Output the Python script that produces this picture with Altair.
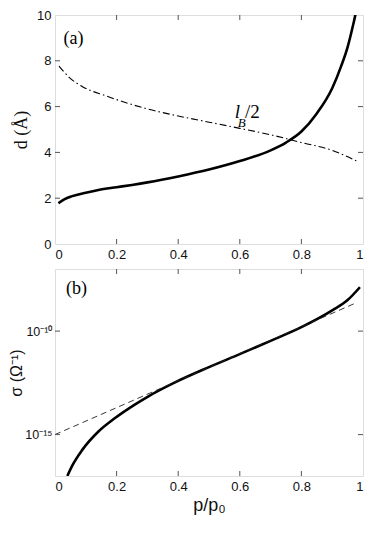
import altair as alt
import pandas as pd

# ---- panel (a) data ----
a_x = [0.011, 0.03, 0.056, 0.1, 0.141, 0.2, 0.25, 0.3, 0.4, 0.5, 0.6, 0.7, 0.75, 0.8, 0.85, 0.9, 0.93, 0.95, 0.965, 0.975, 0.98]
a_d = [1.78, 1.95, 2.09, 2.24, 2.36, 2.48, 2.58, 2.69, 2.95, 3.25, 3.62, 4.09, 4.43, 4.91, 5.7, 6.8, 7.8, 8.6, 9.4, 10.0, 10.4]

lb_x = [0.013, 0.045, 0.088, 0.163, 0.3, 0.4, 0.5, 0.6, 0.7, 0.8, 0.9, 0.98]
lb_y = [7.77, 7.29, 6.88, 6.48, 5.9, 5.59, 5.32, 5.05, 4.77, 4.43, 4.09, 3.62]

# ---- panel (b) data (log10 of sigma) ----
b_x = [0.04, 0.056, 0.088, 0.141, 0.195, 0.259, 0.302, 0.388, 0.5, 0.6, 0.7, 0.8, 0.9, 0.95, 0.99]
b_log = [-17.0, -16.5, -15.75, -14.85, -14.2, -13.55, -13.16, -12.49, -11.74, -11.11, -10.47, -9.81, -9.0, -8.5, -7.88]

fit_x = [0.0, 0.98]
fit_log = [-15.0, -8.62]

a_xticks = [0.2, 0.4, 0.6, 0.8]
a_yticks = [2, 4, 6, 8]
b_yticks_log = [-15, -10]

W = 308
HA = 229
HB = 207
TL = 5
AXC = "#555555"
SANS = "Liberation Sans"
SERIF = "Liberation Serif"

xs = alt.Scale(domain=[0, 1], nice=False)
ya = alt.Scale(domain=[0, 10], nice=False)
yb = alt.Scale(type="log", domain=[1e-17, 1e-7], nice=False)

x_axis_common = dict(values=[0, 0.2, 0.4, 0.6, 0.8, 1], format="~g", grid=False, domain=False,
                     ticks=False, labelPadding=4, labelFont=SANS, labelFontSize=13,
                     labelColor="#111", titleFont=SANS, titleFontSize=18, titleColor="#111",
                     titleFontWeight="normal")

# ---------- panel (a) ----------
df_a = pd.DataFrame({"x": a_x, "y": a_d})
df_lb = pd.DataFrame({"x": lb_x, "y": lb_y})

solid_a = alt.Chart(df_a).mark_line(color="black", strokeWidth=2.6, interpolate="monotone", clip=True).encode(
    x=alt.X("x:Q", scale=xs, axis=alt.Axis(title=None, **x_axis_common)),
    y=alt.Y("y:Q", scale=ya, axis=alt.Axis(values=[0, 2, 4, 6, 8, 10], grid=False, domain=False, ticks=False,
                                           labelPadding=4, labelFont=SANS, labelFontSize=13, labelColor="#111",
                                           title="d (Å)", titleFont=SERIF, titleFontSize=18,
                                           titleFontWeight="normal", titleColor="#111", titlePadding=6)),
)
dash_a = alt.Chart(df_lb).mark_line(color="black", strokeWidth=1.1, strokeDash=[7, 3, 1.5, 3],
                                    interpolate="monotone", clip=True).encode(
    x=alt.X("x:Q", scale=xs), y=alt.Y("y:Q", scale=ya))

txt_a = alt.Chart(pd.DataFrame({"x": [0.06], "y": [8.95], "t": ["(a)"]})).mark_text(
    font=SERIF, fontSize=18, align="center", baseline="middle", color="black").encode(
    x=alt.X("x:Q", scale=xs), y=alt.Y("y:Q", scale=ya), text="t:N")

lab_l = alt.Chart(pd.DataFrame({"x": [0.584], "y": [5.5], "t": ["l"]})).mark_text(
    font=SERIF, fontSize=19, fontStyle="italic", align="left", baseline="alphabetic", color="black").encode(
    x=alt.X("x:Q", scale=xs), y=alt.Y("y:Q", scale=ya), text="t:N")
lab_b = alt.Chart(pd.DataFrame({"x": [0.593], "y": [5.12], "t": ["B"]})).mark_text(
    font=SERIF, fontSize=13, fontStyle="italic", align="left", baseline="alphabetic", color="black").encode(
    x=alt.X("x:Q", scale=xs), y=alt.Y("y:Q", scale=ya), text="t:N")
lab_2 = alt.Chart(pd.DataFrame({"x": [0.617], "y": [5.5], "t": ["/2"]})).mark_text(
    font=SERIF, fontSize=19, align="left", baseline="alphabetic", color="black").encode(
    x=alt.X("x:Q", scale=xs), y=alt.Y("y:Q", scale=ya), text="t:N")


def xticks_rules(vals, h, scale):
    d = pd.DataFrame({"x": vals})
    top = alt.Chart(d).mark_rule(color=AXC, strokeWidth=1).encode(
        x=alt.X("x:Q", scale=scale), y=alt.value(0), y2=alt.value(TL))
    bot = alt.Chart(d).mark_rule(color=AXC, strokeWidth=1).encode(
        x=alt.X("x:Q", scale=scale), y=alt.value(h), y2=alt.value(h - TL))
    return [top, bot]


def yticks_rules(vals, scale):
    d = pd.DataFrame({"y": vals})
    left = alt.Chart(d).mark_rule(color=AXC, strokeWidth=1).encode(
        y=alt.Y("y:Q", scale=scale), x=alt.value(0), x2=alt.value(TL))
    right = alt.Chart(d).mark_rule(color=AXC, strokeWidth=1).encode(
        y=alt.Y("y:Q", scale=scale), x=alt.value(W), x2=alt.value(W - TL))
    return [left, right]


panel_a = alt.layer(
    solid_a, dash_a, txt_a, lab_l, lab_b, lab_2,
    *xticks_rules(a_xticks, HA, xs), *yticks_rules(a_yticks, ya),
).properties(width=W, height=HA)

# ---------- panel (b) ----------
df_b = pd.DataFrame({"x": b_x, "y": [10 ** v for v in b_log]})
df_fit = pd.DataFrame({"x": fit_x, "y": [10 ** v for v in fit_log]})

solid_b = alt.Chart(df_b).mark_line(color="black", strokeWidth=2.6, interpolate="monotone", clip=True).encode(
    x=alt.X("x:Q", scale=xs, axis=alt.Axis(title="p/p₀", titlePadding=3, **x_axis_common)),
    y=alt.Y("y:Q", scale=yb, axis=alt.Axis(values=[1e-15, 1e-10], grid=False, domain=False, ticks=False,
                                           labelPadding=3, labelFont=SANS, labelFontSize=12.5, labelColor="#111",
                                           labelExpr="datum.value < 1e-12 ? '10⁻¹⁵' : '10⁻¹⁰'",
                                           title="σ (Ω⁻¹)", titleFont=SANS, titleFontSize=16,
                                           titleFontWeight="normal", titleColor="#111", titlePadding=0)),
)
fit_b = alt.Chart(df_fit).mark_line(color="#222", strokeWidth=0.9, strokeDash=[6, 4], clip=True).encode(
    x=alt.X("x:Q", scale=xs), y=alt.Y("y:Q", scale=yb))

txt_b = alt.Chart(pd.DataFrame({"x": [0.07], "y": [10 ** -7.95], "t": ["(b)"]})).mark_text(
    font=SERIF, fontSize=18, align="center", baseline="middle", color="black").encode(
    x=alt.X("x:Q", scale=xs), y=alt.Y("y:Q", scale=yb), text="t:N")

panel_b = alt.layer(
    solid_b, fit_b, txt_b,
    *xticks_rules(a_xticks, HB, xs), *yticks_rules([10.0 ** v for v in b_yticks_log], yb),
).properties(width=W, height=HB)

chart = alt.vconcat(panel_a, panel_b, spacing=6).properties(
    padding={"left": 0, "top": 0, "right": 0, "bottom": 0}
).configure_view(stroke=AXC, strokeWidth=1).configure(background="white")

chart.save("out.html", embed_options={"renderer": "svg", "actions": False})
